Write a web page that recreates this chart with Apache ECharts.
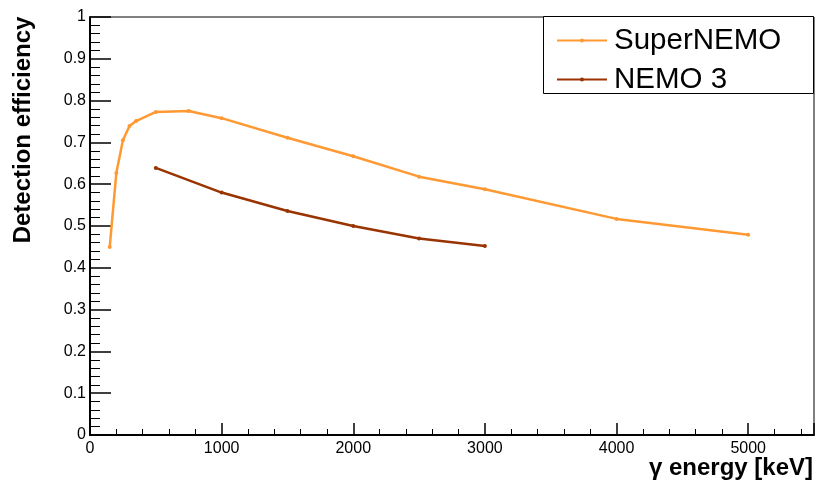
<!DOCTYPE html>
<html>
<head>
<meta charset="utf-8">
<script src="https://cdn.jsdelivr.net/npm/echarts@6/dist/echarts.min.js"></script>
<style>html,body{margin:0;padding:0;background:#fff}#c{width:819px;height:482px}</style>
</head>
<body>
<div id="c"></div>
<script>
const superEnergy = [150, 200, 250, 300, 350, 500, 750, 1000, 1500, 2000, 2500, 3000, 4000, 5000];
const superEff = [0.450, 0.627, 0.705, 0.739, 0.751, 0.773, 0.775, 0.758, 0.711, 0.667, 0.618, 0.588, 0.517, 0.479];
const nemo3Energy = [500, 1000, 1500, 2000, 2500, 3000];
const nemo3Eff = [0.639, 0.580, 0.536, 0.500, 0.470, 0.452];
const seriesNames = ['SuperNEMO', 'NEMO 3'];
const xTitle = 'γ energy [keV]';
const yTitle = 'Detection efficiency';

const FONT = 'Liberation Sans, Arial, Helvetica, sans-serif';
const chart = echarts.init(document.getElementById('c'), null, {renderer: 'canvas'});
const pairs = (xs, ys) => xs.map((x, i) => [x, ys[i]]);

chart.setOption({
  animation: false,
  backgroundColor: '#fff',
  grid: {left: 90, right: 5, top: 17, bottom: 47, show: true, borderColor: '#000', borderWidth: 1, backgroundColor: 'transparent'},
  xAxis: {
    type: 'value', min: 0, max: 5500, interval: 1000,
    axisLine: {show: true, onZero: false, lineStyle: {color: '#000', width: 2}},
    axisTick: {show: true, inside: true, length: 12, lineStyle: {color: '#000', width: 1.5}},
    minorTick: {show: true, splitNumber: 5, length: 6, lineStyle: {color: '#000', width: 1}},
    splitLine: {show: false},
    axisLabel: {color: '#000', fontSize: 16, fontFamily: FONT, margin: 6, showMaxLabel: false,
      formatter: v => String(Math.round(v))}
  },
  yAxis: {
    type: 'value', min: 0, max: 1, interval: 0.1,
    axisLine: {show: true, onZero: false, lineStyle: {color: '#000', width: 2}},
    axisTick: {show: true, inside: true, length: 21, lineStyle: {color: '#000', width: 1.5}},
    minorTick: {show: true, splitNumber: 5, length: 10, lineStyle: {color: '#000', width: 1}},
    splitLine: {show: false},
    axisLabel: {color: '#000', fontSize: 16, fontFamily: FONT, margin: 4,
      formatter: v => (Math.round(v * 10) / 10).toString()}
  },
  legend: {
    show: true, orient: 'vertical', left: 551, top: 20,
    itemWidth: 50, itemHeight: 5, itemGap: 8,
    textStyle: {fontSize: 29.5, fontFamily: FONT, color: '#000', lineHeight: 31, padding: [0, 0, 0, 2]},
    data: seriesNames
  },
  series: [
    {name: seriesNames[0], type: 'line', data: pairs(superEnergy, superEff),
      lineStyle: {color: '#ff9933', width: 2.5}, itemStyle: {color: '#ff9933'},
      symbol: 'circle', symbolSize: 4, showSymbol: true, z: 3},
    {name: seriesNames[1], type: 'line', data: pairs(nemo3Energy, nemo3Eff),
      lineStyle: {color: '#993300', width: 2.5}, itemStyle: {color: '#993300'},
      symbol: 'circle', symbolSize: 4, showSymbol: true, z: 3}
  ],
  graphic: [
    {type: 'rect', left: 543, top: 16, z: 0, shape: {width: 270, height: 77},
      style: {fill: '#fff', stroke: '#000', lineWidth: 1}},
    {type: 'text', right: 6, top: 456, style: {text: xTitle, font: 'bold 24px ' + FONT, fill: '#000'}},
    {type: 'text', x: 23, y: 130, rotation: Math.PI / 2,
      style: {text: yTitle, font: 'bold 24px ' + FONT, fill: '#000', align: 'center', verticalAlign: 'middle'}}
  ]
});
</script>
</body>
</html>
